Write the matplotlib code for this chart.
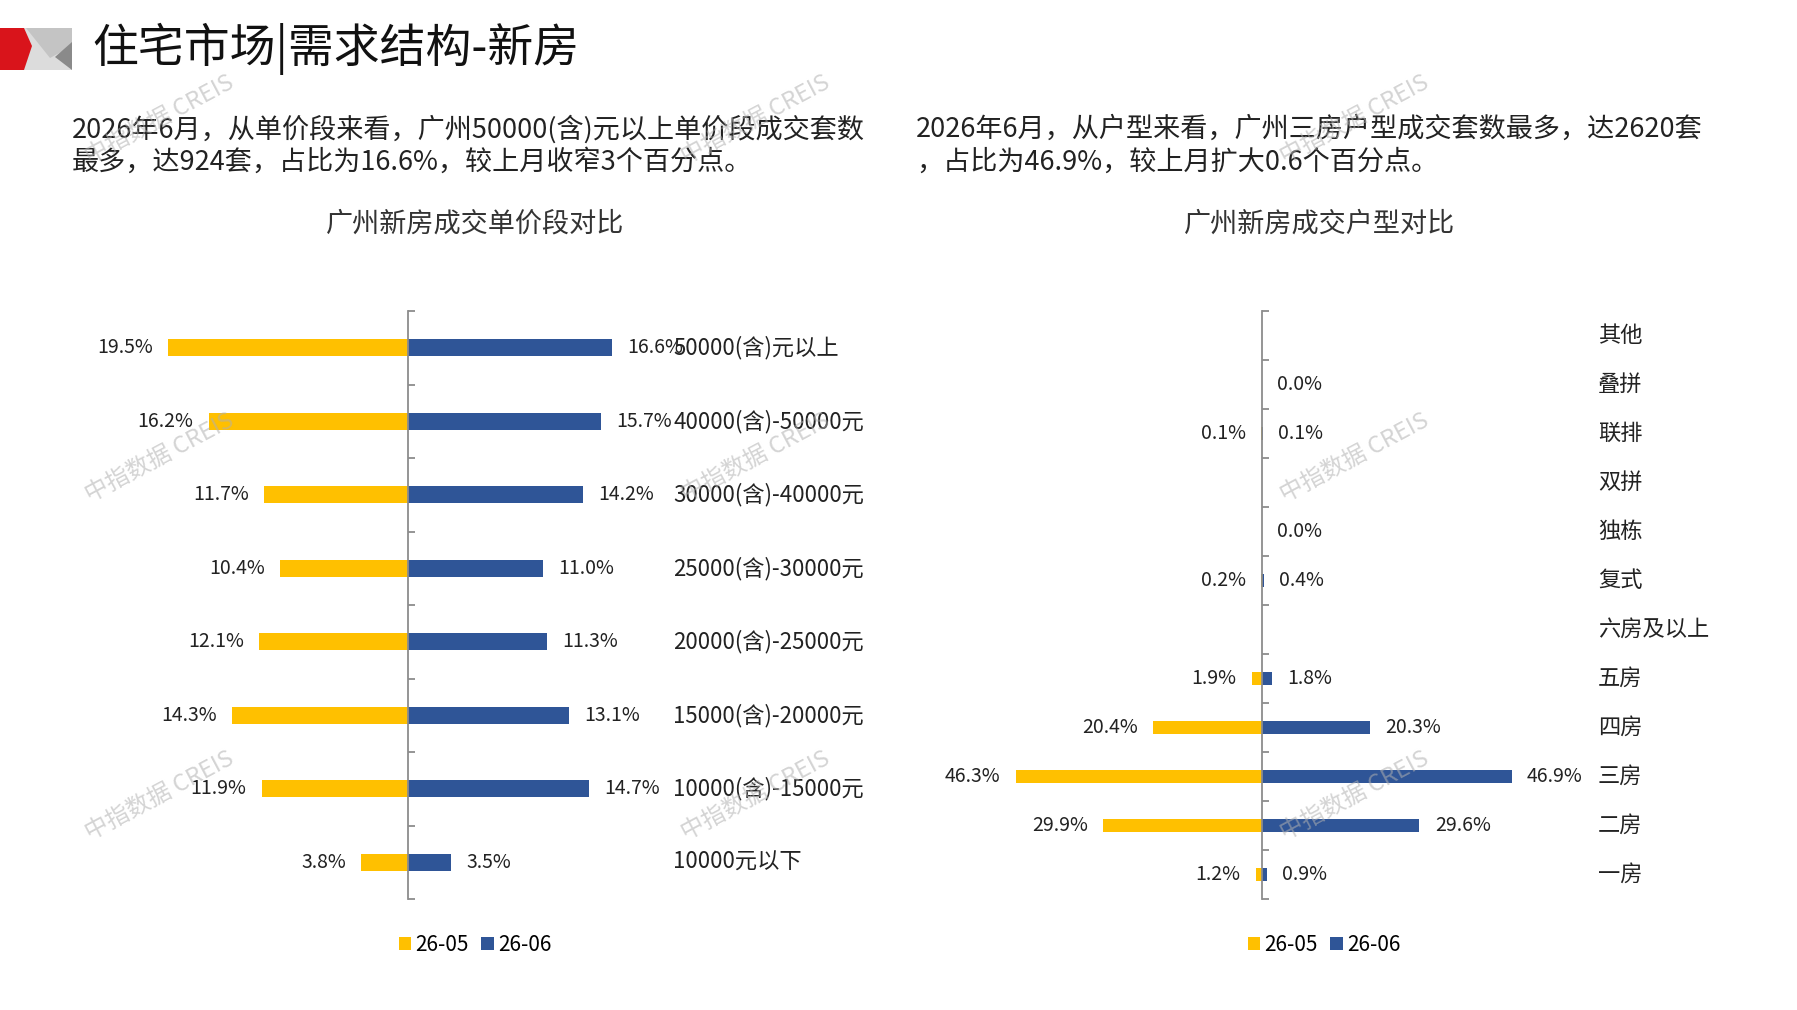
import numpy as np
import matplotlib.pyplot as plt
from matplotlib.patches import Polygon

plt.rcParams['font.family'] = ['Noto Sans CJK SC', 'DejaVu Sans']

W, H = 1797, 1010
YELLOW = "#FFC000"
BLUE = "#2F5597"
GRAY = "#8c8c8c"

series_names = ["26-05", "26-06"]

# left: unit price bands (%)
price_bands = ["50000(含)元以上", "40000(含)-50000元", "30000(含)-40000元",
               "25000(含)-30000元", "20000(含)-25000元", "15000(含)-20000元",
               "10000(含)-15000元", "10000元以下"]
price_may = [19.5, 16.2, 11.7, 10.4, 12.1, 14.3, 11.9, 3.8]
price_jun = [16.6, 15.7, 14.2, 11.0, 11.3, 13.1, 14.7, 3.5]

# right: room types (%), nan = no value shown
nan = np.nan
room_types = ["其他", "叠拼", "联排", "双拼", "独栋", "复式", "六房及以上",
              "五房", "四房", "三房", "二房", "一房"]
room_may = [nan, nan, 0.1, nan, nan, 0.2, nan, 1.9, 20.4, 46.3, 29.9, 1.2]
room_jun = [nan, 0.0, 0.1, nan, 0.0, 0.4, nan, 1.8, 20.3, 46.9, 29.6, 0.9]

title = "住宅市场|需求结构-新房"
left_text = ["2026年6月，从单价段来看，广州50000(含)元以上单价段成交套数",
             "最多，达924套，占比为16.6%，较上月收窄3个百分点。"]
right_text = ["2026年6月，从户型来看，广州三房户型成交套数最多，达2620套",
              "，占比为46.9%，较上月扩大0.6个百分点。"]
left_title = "广州新房成交单价段对比"
right_title = "广州新房成交户型对比"

fig = plt.figure(figsize=(W / 100, H / 100), dpi=100)


def px_axes(x0, x1, y0, y1):
    return fig.add_axes([x0 / W, 1 - y1 / H, (x1 - x0) / W, (y1 - y0) / H])


def butterfly(ax, cats, may, jun, zero_px, x0, x1, px_per, bar_h, cat_px, cat_fs):
    n = len(cats)
    y = np.arange(n)
    may = np.array(may, float)
    jun = np.array(jun, float)
    ax.set_xlim((x0 - zero_px) / px_per, (x1 - zero_px) / px_per)
    ax.set_ylim(n - 0.5, -0.5)
    b1 = ax.barh(y, -np.nan_to_num(may), height=bar_h, color=YELLOW)
    b2 = ax.barh(y, np.nan_to_num(jun), height=bar_h, color=BLUE)
    for yi, v in zip(y, may):
        if not np.isnan(v):
            ax.annotate(f"{v:.1f}%", (-v, yi), xytext=(-11, 0), textcoords="offset points",
                        ha="right", va="center", fontsize=14, color="#222222")
    for yi, v in zip(y, jun):
        if not np.isnan(v):
            ax.annotate(f"{v:.1f}%", (v, yi), xytext=(11, 0), textcoords="offset points",
                        ha="left", va="center", fontsize=14, color="#222222")
    cat_x = (cat_px - x0) / (x1 - x0)
    for yi, c in zip(y, cats):
        ax.text(cat_x, yi, c, transform=ax.get_yaxis_transform(), ha="left",
                va="center", fontsize=cat_fs, color="#222222")
    for s in ["top", "right", "bottom"]:
        ax.spines[s].set_visible(False)
    ax.spines["left"].set_position(("data", 0))
    ax.spines["left"].set_color(GRAY)
    ax.spines["left"].set_linewidth(1.3)
    ax.set_xticks([])
    ax.set_yticks(np.arange(n + 1) - 0.5)
    ax.set_yticklabels([])
    ax.tick_params(axis="y", direction="in", length=5, color=GRAY, width=1.3)
    ax.patch.set_alpha(0)
    return b1, b2


ax1 = px_axes(60, 900, 311, 899)
h1 = butterfly(ax1, price_bands, price_may, price_jun, 408, 60, 900, 12.3, 0.23, 673, 16)
ax2 = px_axes(920, 1790, 311, 899)
h2 = butterfly(ax2, room_types, room_may, room_jun, 1262, 920, 1790, 5.32, 0.25, 1598, 16)

for h, cx in [(h1, 475), (h2, 1324)]:
    fig.legend(h, series_names, loc="center", bbox_to_anchor=(cx / W, 1 - 945 / H),
               ncol=2, frameon=False, fontsize=15, handlelength=0.6, handleheight=0.6,
               handletextpad=0.2, columnspacing=0.6, borderaxespad=0)

# header logo
fig.patches.append(Polygon([(22, 28), (72, 28), (72, 70), (22, 70)], closed=True,
                           transform=None, facecolor="#dcdcdc", edgecolor="none"))
fig.patches.append(Polygon([(26, 28), (72, 28), (72, 46), (50, 58)], closed=True,
                           transform=None, facecolor="#c4c4c4", edgecolor="none"))
fig.patches.append(Polygon([(72, 42), (55, 57), (72, 70)], closed=True,
                           transform=None, facecolor="#8a8a8a", edgecolor="none"))
fig.patches.append(Polygon([(0, 28), (24, 28), (32, 46), (24, 70), (0, 70)], closed=True,
                           transform=None, facecolor="#d9141b", edgecolor="none"))
for p in fig.patches:
    xy = p.get_xy()
    xy[:, 1] = H - xy[:, 1]
    p.set_xy(xy)

fig.text(92 / W, 1 - 49 / H, title, fontsize=33, va="center", ha="left", color="#111111")

for i, line in enumerate(left_text):
    fig.text(72 / W, 1 - (129 + 33 * i) / H, line, fontsize=19.5, va="center", ha="left",
             color="#222222")
for i, line in enumerate(right_text):
    fig.text(916 / W, 1 - (129 + 33 * i) / H, line, fontsize=19.5, va="center", ha="left",
             color="#222222")

fig.text(475 / W, 1 - 224 / H, left_title, fontsize=19.5, ha="center", va="center", color="#333333")
fig.text(1320 / W, 1 - 224 / H, right_title, fontsize=19.5, ha="center", va="center", color="#333333")

# watermarks
for wx in [160, 756, 1355]:
    for wy in [120, 458, 796]:
        fig.text(wx / W, 1 - wy / H, "中指数据 CREIS", fontsize=17, rotation=28,
                 ha="center", va="center", color="#b0b0b0", alpha=0.55)

fig.savefig("out.png", dpi=100)
